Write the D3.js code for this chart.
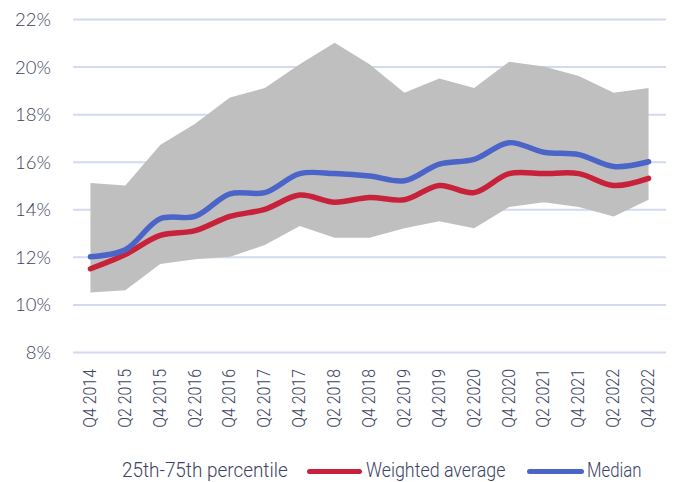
<!DOCTYPE html>
<html><head><meta charset="utf-8">
<script src="https://cdn.jsdelivr.net/npm/d3@7/dist/d3.min.js"></script>
<style>
html,body{margin:0;padding:0;background:#fff;}
svg{display:block;}
</style></head>
<body>
<svg id="chart" width="674" height="482"></svg>
<script>
const categories = ["Q4 2014","Q2 2015","Q4 2015","Q2 2016","Q4 2016","Q2 2017","Q4 2017","Q2 2018","Q4 2018","Q2 2019","Q4 2019","Q2 2020","Q4 2020","Q2 2021","Q4 2021","Q2 2022","Q4 2022"];
const p25 = [10.5,10.6,11.7,11.9,12.0,12.5,13.3,12.8,12.8,13.2,13.5,13.2,14.1,14.3,14.1,13.7,14.4];
const p75 = [15.1,15.0,16.7,17.6,18.7,19.1,20.1,21.0,20.1,18.9,19.5,19.1,20.2,20.0,19.6,18.9,19.1];
const weightedAvg = [11.5,12.1,12.9,13.1,13.7,14.0,14.6,14.3,14.5,14.4,15.0,14.7,15.5,15.5,15.5,15.0,15.3];
const median = [12.0,12.3,13.6,13.7,14.65,14.7,15.5,15.5,15.4,15.2,15.9,16.1,16.8,16.4,16.3,15.8,16.0];
const yTicks = [8,10,12,14,16,18,20,22];
const legendLabels = ["25th-75th percentile","Weighted average","Median"];

const svg = d3.select("#chart");
const pLeft = 73, pRight = 666, pTop = 19, pBottom = 352;
const textColor = "#3b4263";
const condFont = "Roboto, 'Noto Sans', sans-serif";

function condense(factor) {
  return sel => sel.each(function() {
    const w = this.getComputedTextLength();
    d3.select(this).attr("textLength", w * factor).attr("lengthAdjust", "spacingAndGlyphs");
  });
}

const x = d3.scaleBand().domain(categories).range([pLeft, pRight]).padding(0);
const cx = d => x(d) + x.bandwidth()/2;
const y = d3.scaleLinear().domain([8,22]).range([pBottom, pTop]);

// gridlines + y labels
const yAxis = d3.axisLeft(y).tickValues(yTicks).tickSize(-(pRight-pLeft)).tickFormat(d => d + "%");
const gy = svg.append("g").attr("transform", `translate(${pLeft},0)`).call(yAxis);
gy.select(".domain").remove();
gy.selectAll(".tick line").attr("stroke", "#d3daf0").attr("stroke-width", 2);
gy.selectAll(".tick text").attr("x", -22).attr("dy", "0.35em")
  .attr("fill", textColor).style("font-family", "Lato, 'Noto Sans', sans-serif")
  .style("font-weight", 300).style("font-size", "18.5px");

// band
const area = d3.area().x((d,i) => cx(categories[i])).y0((d,i) => y(p25[i])).y1(d => y(d));
svg.append("path").datum(p75).attr("d", area).attr("fill", "#bfbfbf");

// lines
const line = d3.line().x((d,i) => cx(categories[i])).y(d => y(d)).curve(d3.curveCatmullRom.alpha(0.5));
svg.append("path").datum(weightedAvg).attr("d", line).attr("fill","none")
  .attr("stroke","#c8213a").attr("stroke-width",5.5).attr("stroke-linecap","round");
svg.append("path").datum(median).attr("d", line).attr("fill","none")
  .attr("stroke","#4b64c8").attr("stroke-width",5.5).attr("stroke-linecap","round");

// x axis labels
const xAxis = d3.axisBottom(x).tickSize(0).tickPadding(0);
const gx = svg.append("g").attr("transform", `translate(0,${pBottom})`).call(xAxis);
gx.select(".domain").remove();
gx.selectAll(".tick text")
  .attr("transform", "translate(5.5,17) rotate(-90)")
  .attr("x", 0).attr("y", 0).attr("dy", 0)
  .attr("text-anchor", "end")
  .attr("fill", textColor)
  .style("font-family", condFont).style("font-weight", 300)
  .style("font-size", "18px")
  .call(condense(0.885));

// legend
const leg = svg.append("g").style("font-family", condFont).style("font-weight", 300)
  .style("font-size", "19.5px").attr("fill", textColor);
leg.append("text").attr("x", 122).attr("y", 477).text(legendLabels[0]).call(condense(0.97));
leg.append("line").attr("x1",309.5).attr("x2",359.5).attr("y1",471.5).attr("y2",471.5)
  .attr("stroke","#c8213a").attr("stroke-width",5).attr("stroke-linecap","round");
leg.append("text").attr("x", 366).attr("y", 477).text(legendLabels[1]).call(condense(0.915));
leg.append("line").attr("x1",529.5).attr("x2",581.5).attr("y1",471.5).attr("y2",471.5)
  .attr("stroke","#4b64c8").attr("stroke-width",5).attr("stroke-linecap","round");
leg.append("text").attr("x", 587).attr("y", 477).text(legendLabels[2]).call(condense(0.86));
</script>
</body></html>
